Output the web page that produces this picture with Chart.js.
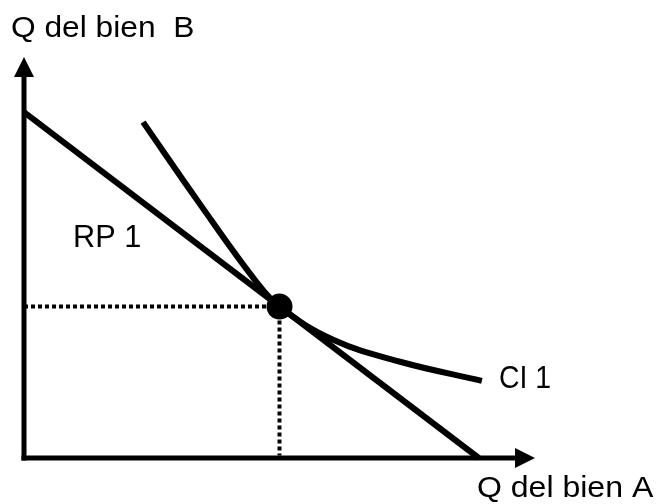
<!DOCTYPE html>
<html>
<head>
<meta charset="utf-8">
<script src="https://cdn.jsdelivr.net/npm/chart.js@4"></script>
<style>
  html, body { margin: 0; padding: 0; background: #fff; }
  canvas { display: block; }
</style>
</head>
<body>
<canvas id="chart" width="657" height="504"></canvas>
<script>
// budget line (RP 1): intercepts on both axes
const budgetX = [0, 8.9];
const budgetY = [6.9, 0];

// indifference curve (CI 1)
const curveX = [2.33, 3.44, 4.52, 5.0, 6.05, 7.36, 8.96];
const curveY = [6.70, 5.07, 3.55, 3.02, 2.36, 1.92, 1.54];

// optimum point
const optX = 5.0;
const optY = 3.02;

const labels = {
    yTitle: "Q del bien  B",
    xTitle: "Q del bien A",
    budget: "RP 1",
    curve: "CI 1",
};

const toPoints = (xs, ys) => xs.map((x, i) => ({ x, y: ys[i] }));

// draws axes with arrowheads and the text labels
const decorations = {
    id: "decorations",
    beforeDatasetsDraw(chart) {
        const ctx = chart.ctx;
        const xs = chart.scales.x;
        const ys = chart.scales.y;
        const x0 = xs.getPixelForValue(0);
        const y0 = ys.getPixelForValue(0);
        const top = chart.chartArea.top;
        const right = chart.chartArea.right;

        ctx.save();
        ctx.strokeStyle = "#000";
        ctx.fillStyle = "#000";
        ctx.lineWidth = 5;
        ctx.lineCap = "butt";

        // y axis
        ctx.beginPath();
        ctx.moveTo(x0, y0 + 2.5);
        ctx.lineTo(x0, top + 18);
        ctx.stroke();
        ctx.beginPath();
        ctx.moveTo(x0, top);
        ctx.lineTo(x0 - 10, top + 20);
        ctx.lineTo(x0 + 10, top + 20);
        ctx.closePath();
        ctx.fill();

        // x axis
        ctx.beginPath();
        ctx.moveTo(x0 - 2.5, y0);
        ctx.lineTo(right - 18, y0);
        ctx.stroke();
        ctx.beginPath();
        ctx.moveTo(right, y0);
        ctx.lineTo(right - 20, y0 - 10);
        ctx.lineTo(right - 20, y0 + 10);
        ctx.closePath();
        ctx.fill();
        ctx.restore();
    },
    afterDatasetsDraw(chart) {
        const ctx = chart.ctx;
        // text stretched to the width it has in the picture
        function fitText(text, x, baseline, width, size) {
            ctx.save();
            ctx.font = size + 'px "Liberation Sans", Arial, sans-serif';
            ctx.fillStyle = "#000";
            const m = ctx.measureText(text);
            const ink = m.actualBoundingBoxLeft + m.actualBoundingBoxRight;
            const sx = width / ink;
            ctx.translate(x, baseline);
            ctx.scale(sx, 1);
            ctx.fillText(text, m.actualBoundingBoxLeft, 0);
            ctx.restore();
        }
        fitText(labels.yTitle, 12, 37, 181, 29);
        fitText(labels.xTitle, 478, 497, 176, 29);
        fitText(labels.budget, 75, 247, 65, 31);
        fitText(labels.curve, 500, 388, 50, 31);
    },
};

new Chart(document.getElementById("chart"), {
    type: "line",
    data: {
        datasets: [
            {
                label: labels.budget,
                data: toPoints(budgetX, budgetY),
                borderColor: "#000",
                borderWidth: 6,
                pointRadius: 0,
                borderCapStyle: "butt",
            },
            {
                label: labels.curve,
                data: toPoints(curveX, curveY),
                borderColor: "#000",
                borderWidth: 6,
                pointRadius: 0,
                tension: 0.4,
                borderCapStyle: "butt",
            },
            {
                label: "guide x",
                data: [{ x: 0, y: optY }, { x: optX, y: optY }],
                borderColor: "#000",
                borderWidth: 4,
                borderDash: [4, 3],
                pointRadius: 0,
            },
            {
                label: "guide y",
                data: [{ x: optX, y: optY }, { x: optX, y: 0.05 }],
                borderColor: "#000",
                borderWidth: 4,
                borderDash: [4, 3],
                pointRadius: 0,
            },
            {
                label: "optimo",
                data: [{ x: optX, y: optY }],
                showLine: false,
                pointRadius: 13,
                pointBackgroundColor: "#000",
                pointBorderColor: "#000",
                pointBorderWidth: 0,
            },
        ],
    },
    options: {
        responsive: false,
        animation: false,
        clip: false,
        layout: {
            padding: { left: 24, right: 122, top: 57, bottom: 46 },
        },
        plugins: {
            legend: { display: false },
            tooltip: { enabled: false },
        },
        scales: {
            x: { type: "linear", min: 0, max: 10, display: false },
            y: { type: "linear", min: 0, max: 8, display: false },
        },
    },
    plugins: [decorations],
});
</script>
</body>
</html>
